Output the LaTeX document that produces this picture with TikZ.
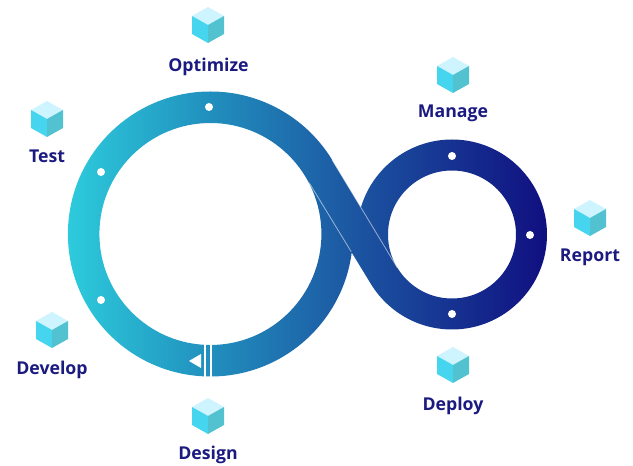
\documentclass[tikz,border=0pt]{standalone}
\usepackage{fontspec}
\setmainfont{Open Sans}
\usetikzlibrary{calc}
\definecolor{labcol}{HTML}{1B1A80}
\definecolor{cubetop}{HTML}{CDF4FF}
\definecolor{cubeleft}{HTML}{45D5EE}
\definecolor{cuberight}{HTML}{53C2D0}
\definecolor{bandL}{HTML}{2DCBDC}
\definecolor{bandM}{HTML}{2190BE}
\definecolor{bandN}{HTML}{1C57A2}
\definecolor{bandR}{HTML}{100F80}
\pgfdeclarehorizontalshading{bandshade}{100bp}{
  color(0bp)=(bandL); color(25bp)=(bandL); color(39.6bp)=(bandM);
  color(54.5bp)=(bandN); color(75bp)=(bandR); color(100bp)=(bandR)}
\tikzset{
  lab/.style={text=labcol,font=\bfseries\fontsize{17.7}{21}\selectfont,inner sep=0pt,anchor=base},
  dot/.style={circle,fill=white,draw=none,minimum size=8pt,inner sep=0pt},
  edgeline/.style={draw=white,draw opacity=0.55,line width=0.8pt},
  cut/.style={fill=white,draw=none},
  pics/cube/.style={code={
    \fill[cubetop] (-16,9) -- (0,18) -- (16,9) -- (0,0) -- cycle;
    \fill[cubeleft] (-16,9) -- (0,0) -- (0,-18) -- (-16,-9) -- cycle;
    \fill[cuberight] (16,9) -- (0,0) -- (0,-18) -- (16,-9) -- cycle;
  }}
}
\begin{document}
\begin{tikzpicture}[x=1pt,y=1pt]
\useasboundingbox (0,0) rectangle (633,466);
\coordinate (C1) at (210.4,232);
\coordinate (C2) at (452,231.5);
\def\ang{31.4}
\coordinate (A) at ($(C1)+(\ang:142.5pt)$);
\coordinate (B) at ($(C1)+(\ang:111pt)$);
\coordinate (C) at ($(C2)+(180+\ang:95pt)$);
\coordinate (D) at ($(C2)+(180+\ang:64pt)$);
\shade[shading=bandshade]
  ($(C1)+(142.5pt,0)$) arc[start angle=0,end angle=360,radius=142.5pt] -- cycle
  ($(C1)+(111pt,0)$) arc[start angle=360,end angle=0,radius=111pt] -- cycle
  ($(C2)+(95pt,0)$) arc[start angle=0,end angle=360,radius=95pt] -- cycle
  ($(C2)+(64pt,0)$) arc[start angle=360,end angle=0,radius=64pt] -- cycle
  (A) -- (B) -- (C) -- (D) -- cycle;
\draw[edgeline] ($(B)!0.06!(C)$) -- ($(B)!0.7!(C)$);
\draw[edgeline] (A) -- (D);
% start marker
\fill[cut] (203.7,87) rectangle (206,124);
\fill[cut] (210,87) rectangle (211.7,124);
\fill[cut] (189,105) -- (201,112) -- (201,98) -- cycle;
% dots
\node[dot] (d1) at (209,359) {};
\node[dot] (d2) at (101,294) {};
\node[dot] (d3) at (101,166) {};
\node[dot] (d4) at (452,310) {};
\node[dot] (d5) at (530,231) {};
\node[dot] (d6) at (452,152) {};
% cubes
\pic at (208,441) {cube};
\pic at (47,347) {cube};
\pic at (52,136) {cube};
\pic at (208,50) {cube};
\pic at (453,391) {cube};
\pic at (590,248) {cube};
\pic at (453,101) {cube};
% labels
\node[lab] (optimize) at (208.5,394.3) {Optimize};
\node[lab] (test) at (47,303.5) {Test};
\node[lab] (develop) at (52,91.3) {Develop};
\node[lab] (design) at (208,6.2) {Design};
\node[lab] (manage) at (453,348.3) {Manage};
\node[lab] (report) at (590,204.8) {Report};
\node[lab] (deploy) at (453,55.8) {Deploy};
\end{tikzpicture}
\end{document}
